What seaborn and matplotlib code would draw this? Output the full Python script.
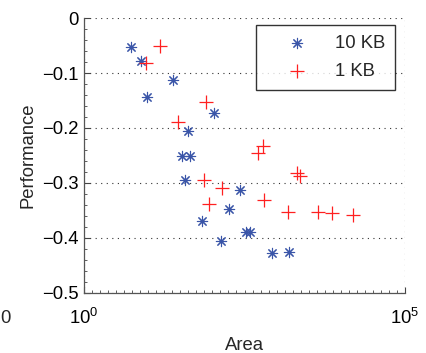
import matplotlib
matplotlib.use("Agg")
import matplotlib.pyplot as plt
import matplotlib.ticker as mticker
import numpy as np
import pandas as pd
import seaborn as sns

# 10 KB series (blue asterisks)
area_10kb = [5.33, 7.73, 9.57, 24.6, 41.2, 107, 33.3, 44.8, 37.4, 68.1,
             135, 182, 269, 330, 385, 839, 1578]
perf_10kb = [-0.053, -0.078, -0.144, -0.113, -0.205, -0.173, -0.251, -0.251,
             -0.295, -0.369, -0.405, -0.347, -0.313, -0.389, -0.389, -0.428, -0.425]

# 1 KB series (red pluses)
area_1kb = [15.3, 9.25, 78.7, 28.8, 608, 519, 74.0, 143, 87.5, 646,
            2056, 2312, 1521, 4365, 7211, 15310]
perf_1kb = [-0.051, -0.082, -0.152, -0.190, -0.232, -0.246, -0.295, -0.310,
            -0.338, -0.331, -0.282, -0.287, -0.353, -0.353, -0.355, -0.359]

labels = ["10 KB", "1 KB"]
x_ticks = [1, 1e5]
y_ticks = [0, -0.1, -0.2, -0.3, -0.4, -0.5]
y_tick_labels = ["0", "\u22120.1", "\u22120.2", "\u22120.3", "\u22120.4", "\u22120.5"]

sns.set_style("white")
plt.rcParams["font.family"] = ["Liberation Sans", "DejaVu Sans"]
plt.rcParams["mathtext.fontset"] = "custom"
plt.rcParams["mathtext.rm"] = "Liberation Sans"
plt.rcParams["mathtext.it"] = "Liberation Sans"

FS = 13.3

fig = plt.figure(figsize=(4.26, 3.53), dpi=100)
ax = fig.add_axes([0.197, 0.170, 0.754, 0.779])

blue = "#3a55a8"
red = "#ff2020"

sns.scatterplot(x=area_10kb, y=perf_10kb, ax=ax, marker=(8, 2, 0), s=55,
                color=blue, edgecolor=blue, linewidth=0.8, label=labels[0], zorder=3)
sns.scatterplot(x=area_1kb, y=perf_1kb, ax=ax, marker="+", s=95,
                color=red, linewidth=0.9, label=labels[1], zorder=3)

ax.set_xscale("log")
ax.set_xlim(1, 1e5)
ax.set_ylim(-0.5, 0)
ax.set_xticks(x_ticks)
ax.xaxis.set_major_formatter(mticker.LogFormatterSciNotation())
ax.xaxis.set_minor_locator(mticker.FixedLocator(10 ** (np.arange(0, 41) / 8.0)))
ax.xaxis.set_minor_formatter(mticker.NullFormatter())
ax.set_yticks(y_ticks)
ax.set_yticklabels(y_tick_labels)
ax.yaxis.set_minor_locator(mticker.MultipleLocator(0.02))

ax.tick_params(axis="both", which="both", direction="in", labelsize=FS,
               colors="#444444", labelcolor="black", bottom=True, left=True,
               top=False, right=False)
ax.tick_params(axis="both", which="major", length=4, width=0.8)
ax.tick_params(axis="both", which="minor", length=2.5, width=0.6)
ax.tick_params(axis="x", pad=11)
ax.tick_params(axis="y", pad=4)

for s in ["top", "right"]:
    ax.spines[s].set_visible(False)
for s in ["left", "bottom"]:
    ax.spines[s].set_color("#555555")
    ax.spines[s].set_linewidth(0.9)

ax.grid(True, which="major", linestyle=(0, (1, 4)), color="#333333", linewidth=0.8)
ax.set_axisbelow(True)

ax.set_xlabel("Area", fontsize=FS, labelpad=6)
ax.set_ylabel("Performance", fontsize=FS, labelpad=4)

leg = ax.legend(loc="upper left", bbox_to_anchor=(0.537, 0.975), frameon=True,
                fancybox=False, edgecolor="black", fontsize=FS,
                handletextpad=0.4, borderpad=0.55, borderaxespad=0,
                labelspacing=0.6, handlelength=3.3, markerfirst=True)
leg.get_frame().set_linewidth(1.0)

fig.text(0.0, 0.098, "0", fontsize=FS, ha="left", va="center")

fig.savefig("out.png", dpi=100)
